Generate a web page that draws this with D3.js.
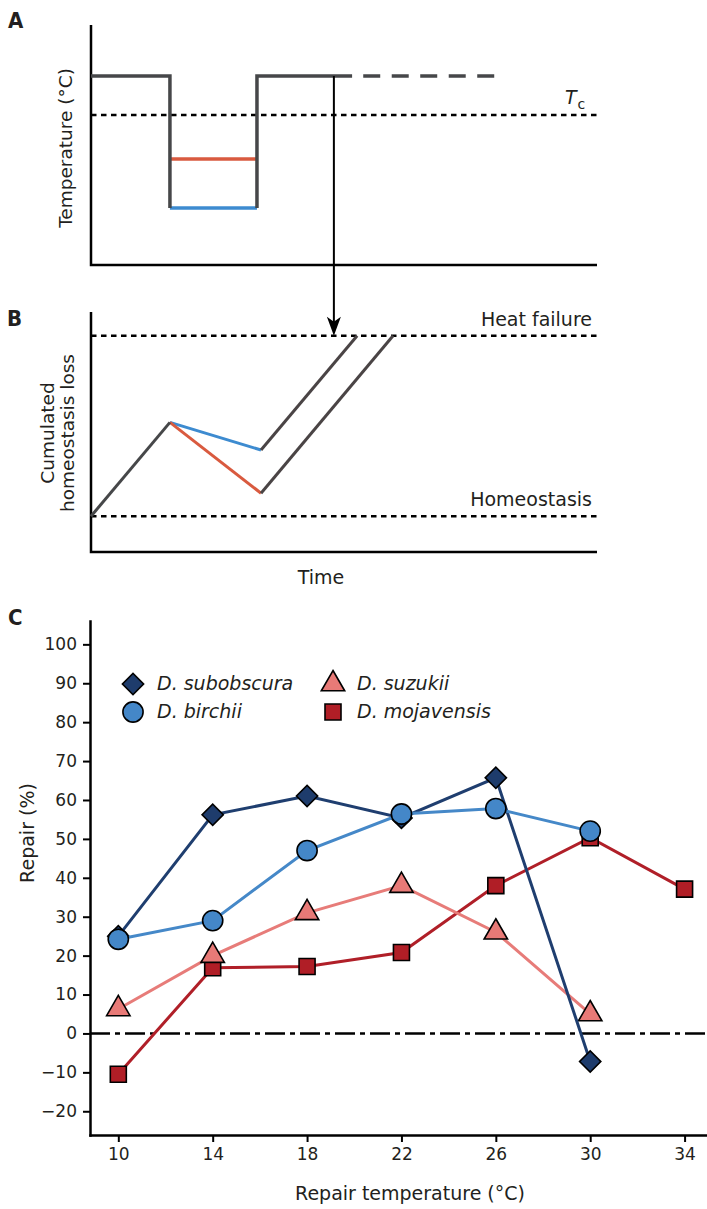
<!DOCTYPE html>
<html>
<head>
<meta charset="utf-8">
<script src="https://cdn.jsdelivr.net/npm/d3@7"></script>
<style>
  body { margin: 0; background: #fff; }
  svg { display: block; }
  text { font-family: "DejaVu Sans", sans-serif; fill: #231f20; }
  text.letter { font-family: "DejaVu Sans Condensed", "DejaVu Sans", sans-serif; }
</style>
</head>
<body>
<script>
// ---- Panel A: temperature schedule (arbitrary units 0-100) ----
const aStepTime = [0, 15.6, 15.6, null, 32.8, 32.8, 51.6];
const aStepTemp = [78.75, 78.75, 23.75, null, 23.75, 78.75, 78.75];
const aRepairTime = [15.6, 32.8];
const aRepairWarm = [44.2, 44.2];
const aRepairCold = [23.75, 23.75];
const aFutureTime = [53.8, 79.8];
const aFutureTemp = [78.75, 78.75];
const aCriticalTemp = 62.5;
const arrowTime = 48;

// ---- Panel B: cumulated homeostasis loss (arbitrary units 0-100) ----
const bHeatTime = [0, 15.6];
const bHeatLoss = [14.9, 54];
const bRepairTime = [15.6, 33.6];
const bColdLoss = [54, 42.5];
const bWarmLoss = [54, 24.5];
const bReheatColdTime = [33.6, 52.6];
const bReheatColdLoss = [42.5, 90.1];
const bReheatWarmTime = [33.6, 59.7];
const bReheatWarmLoss = [24.5, 90.1];
const bFailureLevel = 90.1;
const bHomeostasisLevel = 14.9;

// ---- Panel C: repair (%) vs repair temperature ----
const repairTemps = [10, 14, 18, 22, 26, 30, 34];
const subobscuraRepair = [25, 56.2, 61, 55.4, 65.7, -7.2];
const birchiiRepair = [24.2, 29, 47, 56.4, 57.8, 52];
const suzukiiRepair = [6.3, 20, 31, 38, 26, 5];
const mojavensisRepair = [-10.5, 16.9, 17.2, 20.8, 38, 50.3, 37.1];
const repairTicks = [-20, -10, 0, 10, 20, 30, 40, 50, 60, 70, 80, 90, 100];
const tempTicks = [10, 14, 18, 22, 26, 30, 34];

const W = 707, H = 1209;
const svg = d3.select('body').append('svg')
    .attr('width', W)
    .attr('height', H);
svg.append('rect').attr('width', W).attr('height', H).attr('fill', '#fff');

const GRAY = '#464749';
const GRAY_B = '#4a4445';
const RED_A = '#d95a3f';
const BLUE_A = '#3d8bd0';
const LABEL_SIZE = 19;

function panelLetter(txt, x, y) {
    svg.append('text')
        .attr('class', 'letter')
        .attr('x', x).attr('y', y)
        .attr('font-size', 22)
        .attr('font-weight', 'bold')
        .text(txt);
}

function plainAxes(xs, ys) {
    const [x0, x1] = xs.range();
    const [y0, y1] = ys.range();
    svg.append('path')
        .attr('d', `M${x0},${y1}V${y0}H${x1}`)
        .attr('fill', 'none')
        .attr('stroke', '#000')
        .attr('stroke-width', 2.5);
}

function hLine(xs, ys, level, dash, width) {
    svg.append('line')
        .attr('x1', xs.range()[0]).attr('x2', xs.range()[1])
        .attr('y1', ys(level)).attr('y2', ys(level))
        .attr('stroke', '#000')
        .attr('stroke-width', width)
        .attr('stroke-dasharray', dash);
}

function seg(xs, ys, tx, ty, color, width, dash) {
    const line = d3.line()
        .defined((d, i) => tx[i] !== null)
        .x((d, i) => xs(tx[i]))
        .y((d, i) => ys(ty[i]));
    svg.append('path')
        .attr('d', line(tx))
        .attr('fill', 'none')
        .attr('stroke', color)
        .attr('stroke-width', width)
        .attr('stroke-linejoin', 'miter')
        .attr('stroke-dasharray', dash || null);
}

// ================= Panel A =================
const xA = d3.scaleLinear().domain([0, 100]).range([91, 597]);
const yA = d3.scaleLinear().domain([0, 100]).range([265, 25]);

panelLetter('A', 8, 28);
plainAxes(xA, yA);
hLine(xA, yA, aCriticalTemp, '5.5,4.5', 2.5);
seg(xA, yA, aRepairTime, aRepairWarm, RED_A, 3.5);
seg(xA, yA, aRepairTime, aRepairCold, BLUE_A, 3.5);
seg(xA, yA, aStepTime, aStepTemp, GRAY, 3.5);
seg(xA, yA, aFutureTime, aFutureTemp, GRAY, 3.5, '17,11.5');

svg.append('text')
    .attr('transform', `translate(72,148) rotate(-90)`)
    .attr('text-anchor', 'middle')
    .attr('font-size', 18.5)
    .text('Temperature (°C)');

const tc = svg.append('text')
    .attr('x', 565).attr('y', 104)
    .attr('font-size', LABEL_SIZE);
tc.append('tspan').attr('font-style', 'italic').text('T');
tc.append('tspan').attr('font-size', 14).attr('dy', 5).attr('dx', 1).text('c');

// ================= Panel B =================
const xB = d3.scaleLinear().domain([0, 100]).range([91, 597]);
const yB = d3.scaleLinear().domain([0, 100]).range([552, 312]);

panelLetter('B', 7, 326);
plainAxes(xB, yB);
hLine(xB, yB, bFailureLevel, '5.5,4.5', 2.5);
hLine(xB, yB, bHomeostasisLevel, '5.5,4.5', 2.5);
seg(xB, yB, bRepairTime, bColdLoss, BLUE_A, 3);
seg(xB, yB, bRepairTime, bWarmLoss, RED_A, 3);
seg(xB, yB, bHeatTime, bHeatLoss, GRAY, 3);
seg(xB, yB, bReheatColdTime, bReheatColdLoss, GRAY_B, 3);
seg(xB, yB, bReheatWarmTime, bReheatWarmLoss, GRAY_B, 3);

svg.append('text')
    .attr('x', xB.range()[1] - 5).attr('y', yB(bFailureLevel) - 10)
    .attr('text-anchor', 'end')
    .attr('font-size', LABEL_SIZE)
    .text('Heat failure');
svg.append('text')
    .attr('x', xB.range()[1] - 5).attr('y', yB(bHomeostasisLevel) - 10)
    .attr('text-anchor', 'end')
    .attr('font-size', LABEL_SIZE)
    .text('Homeostasis');
svg.append('text')
    .attr('x', 321).attr('y', 584)
    .attr('text-anchor', 'middle')
    .attr('font-size', LABEL_SIZE)
    .text('Time');

const yLabB = svg.append('text')
    .attr('transform', `translate(54,433) rotate(-90)`)
    .attr('text-anchor', 'middle')
    .attr('font-size', 18.5);
yLabB.append('tspan').attr('x', 0).attr('dy', 0).text('Cumulated');
yLabB.append('tspan').attr('x', 0).attr('dy', 20).text('homeostasis loss');

// arrow linking the two panels
const arrowTop = yA(aStepTemp[5]);
const arrowTip = yB(bFailureLevel);
svg.append('line')
    .attr('x1', xA(arrowTime)).attr('x2', xA(arrowTime))
    .attr('y1', arrowTop).attr('y2', arrowTip - 8)
    .attr('stroke', '#000')
    .attr('stroke-width', 2);
svg.append('path')
    .attr('transform', `translate(${xA(arrowTime)},${arrowTip})`)
    .attr('d', 'M0,0L-7,-19L0,-14L7,-19Z')
    .attr('fill', '#000');

// ================= Panel C =================
const xC = d3.scaleLinear().domain([8.8, 34.95]).range([90, 707]);
const yC = d3.scaleLinear().domain([-26.1, 106]).range([1135, 621]);

panelLetter('C', 8, 625);

const series = [
    { name: 'D. mojavensis', values: mojavensisRepair, line: '#b01f28', fill: '#b01e26', shape: 'square' },
    { name: 'D. suzukii', values: suzukiiRepair, line: '#e77c79', fill: '#e87a77', shape: 'triangle' },
    { name: 'D. subobscura', values: subobscuraRepair, line: '#1f3e6f', fill: '#1e3c6c', shape: 'diamond' },
    { name: 'D. birchii', values: birchiiRepair, line: '#4588c8', fill: '#4487c8', shape: 'circle' }
];

function markerPath(shape) {
    if (shape === 'square') return d3.symbol(d3.symbolSquare, 256)();
    if (shape === 'triangle') return d3.symbol(d3.symbolTriangle, 237)();
    if (shape === 'diamond') return d3.symbol(d3.symbolSquare, 225)();
    return d3.symbol(d3.symbolCircle, 320)();
}
function markerRotate(shape) {
    return shape === 'diamond' ? ' rotate(45)' : '';
}

// zero reference line
svg.append('line')
    .attr('x1', xC.range()[0]).attr('x2', xC.range()[1])
    .attr('y1', yC(0)).attr('y2', yC(0))
    .attr('stroke', '#000')
    .attr('stroke-width', 2.5)
    .attr('stroke-dasharray', '20,5,5,5');

const xAxis = svg.append('g')
    .attr('transform', `translate(0,${yC.range()[0]})`)
    .call(d3.axisBottom(xC).tickValues(tempTicks).tickSize(7).tickSizeOuter(0).tickPadding(6));
const yAxis = svg.append('g')
    .attr('transform', `translate(${xC.range()[0]},0)`)
    .call(d3.axisLeft(yC).tickValues(repairTicks).tickSize(7).tickSizeOuter(0).tickPadding(6));

[xAxis, yAxis].forEach(ax => {
    ax.select('.domain').attr('stroke-width', 2.5).attr('stroke-linecap', 'square');
    ax.selectAll('.tick line').attr('stroke-width', 2);
    ax.selectAll('.tick text')
        .attr('font-size', 17)
        .attr('fill', '#231f20');
});

series.forEach(s => {
    const pts = s.values.map((v, i) => [repairTemps[i], v]);
    svg.append('path')
        .attr('d', d3.line().x(d => xC(d[0])).y(d => yC(d[1]))(pts))
        .attr('fill', 'none')
        .attr('stroke', s.line)
        .attr('stroke-width', 3);
    svg.append('g').selectAll('path')
        .data(pts)
        .join('path')
        .attr('transform', d => `translate(${xC(d[0])},${yC(d[1])})${markerRotate(s.shape)}`)
        .attr('d', markerPath(s.shape))
        .attr('fill', s.fill)
        .attr('stroke', '#000')
        .attr('stroke-width', 1.6);
});

svg.append('text')
    .attr('x', 410).attr('y', 1200)
    .attr('text-anchor', 'middle')
    .attr('font-size', LABEL_SIZE)
    .text('Repair temperature (°C)');
svg.append('text')
    .attr('transform', 'translate(34,833) rotate(-90)')
    .attr('text-anchor', 'middle')
    .attr('font-size', LABEL_SIZE)
    .text('Repair (%)');

// legend
const legendOrder = ['D. subobscura', 'D. birchii', 'D. suzukii', 'D. mojavensis'];
const legendCols = [133, 333];
const legendRows = [684, 712];
legendOrder.forEach((name, i) => {
    const s = series.find(d => d.name === name);
    const cx = legendCols[Math.floor(i / 2)];
    const cy = legendRows[i % 2];
    svg.append('path')
        .attr('transform', `translate(${cx},${cy})${markerRotate(s.shape)}`)
        .attr('d', markerPath(s.shape))
        .attr('fill', s.fill)
        .attr('stroke', '#000')
        .attr('stroke-width', 1.6);
    svg.append('text')
        .attr('x', cx + 24).attr('y', cy + 6)
        .attr('font-size', 19)
        .attr('font-style', 'italic')
        .text(name);
});
</script>
</body>
</html>
